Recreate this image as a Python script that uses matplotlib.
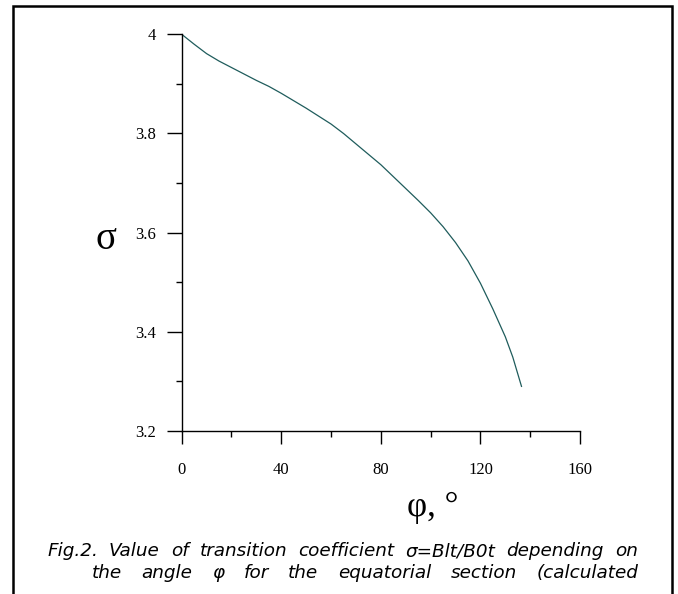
import matplotlib
matplotlib.use("Agg")
import matplotlib.pyplot as plt
from matplotlib.patches import Rectangle
from matplotlib.ticker import MultipleLocator

# data
phi = [0, 5, 10, 15, 20, 25, 30, 35, 40, 45, 50, 55, 60, 65, 70, 75, 80, 85, 90,
       95, 100, 105, 110, 115, 120, 125, 130, 133, 136.5]
sigma = [4.000, 3.980, 3.961, 3.946, 3.933, 3.920, 3.907, 3.895, 3.881, 3.866,
         3.851, 3.835, 3.819, 3.800, 3.779, 3.758, 3.737, 3.713, 3.689, 3.665,
         3.640, 3.612, 3.580, 3.543, 3.498, 3.446, 3.390, 3.349, 3.290]
x_ticks = [0, 40, 80, 120, 160]
x_tick_labels = ["0", "40", "80", "120", "160"]
y_ticks = [3.2, 3.4, 3.6, 3.8, 4.0]
y_tick_labels = ["3.2", "3.4", "3.6", "3.8", "4"]
caption1_words = ["Fig.2.", "Value", "of", "transition", "coefficient", "σ=Blt/B0t",
                  "depending", "on"]
caption2_words = ["the", "angle", "φ", "for", "the", "equatorial", "section", "(calculated"]

W, H = 678, 594
fig = plt.figure(figsize=(W / 100, H / 100), dpi=100)

# outer frame (bottom edge cut off)
fig.patches.append(Rectangle((13 / W, -0.05), (672 - 13) / W, 1.05 - 6 / H,
                             transform=fig.transFigure, fill=False,
                             edgecolor="black", linewidth=1.8))

ax = fig.add_axes([181.7 / W, 1 - 431 / H, (580 - 181.7) / W, (431 - 34.3) / H])
ax.plot(phi, sigma, color="#1f5c5c", linewidth=0.9)
ax.set_xlim(0, 160)
ax.set_ylim(3.2, 4.0)
for s in ["top", "right"]:
    ax.spines[s].set_visible(False)
for s in ["left", "bottom"]:
    ax.spines[s].set_linewidth(1.0)
ax.set_xticks(x_ticks)
ax.set_xticklabels(x_tick_labels)
ax.set_yticks(y_ticks)
ax.set_yticklabels(y_tick_labels)
ax.xaxis.set_minor_locator(MultipleLocator(20))
ax.yaxis.set_minor_locator(MultipleLocator(0.1))
serif = "Liberation Serif"
ax.tick_params(axis="x", which="major", direction="out", length=9.5, width=1.0,
               pad=13, labelsize=12)
ax.tick_params(axis="x", which="minor", direction="out", length=4, width=1.0)
ax.tick_params(axis="y", which="major", direction="out", length=10.5, width=1.0,
               pad=8, labelsize=12)
ax.tick_params(axis="y", which="minor", direction="out", length=4, width=1.0)
for lab in ax.get_xticklabels() + ax.get_yticklabels():
    lab.set_fontfamily(serif)

fig.text(106 / W, 1 - 240 / H, "σ", fontsize=28, family=serif, ha="center", va="center")
fig.text(433 / W, 1 - 507 / H, "φ, °", fontsize=25, family=serif, ha="center", va="center")

renderer = fig.canvas.get_renderer()


def justified(words, x0, x1, y):
    texts = [fig.text(0, 1 - y / H, w, fontsize=13.2, family="DejaVu Sans",
                      style="italic", ha="left", va="baseline") for w in words]
    widths = [t.get_window_extent(renderer).width for t in texts]
    gap = ((x1 - x0) - sum(widths)) / (len(words) - 1)
    cx = x0
    for t, wd in zip(texts, widths):
        t.set_x(cx / W)
        cx += wd + gap


justified(caption1_words, 47, 638, 556)
justified(caption2_words, 92, 638, 578)

fig.savefig("out.png", dpi=100)
